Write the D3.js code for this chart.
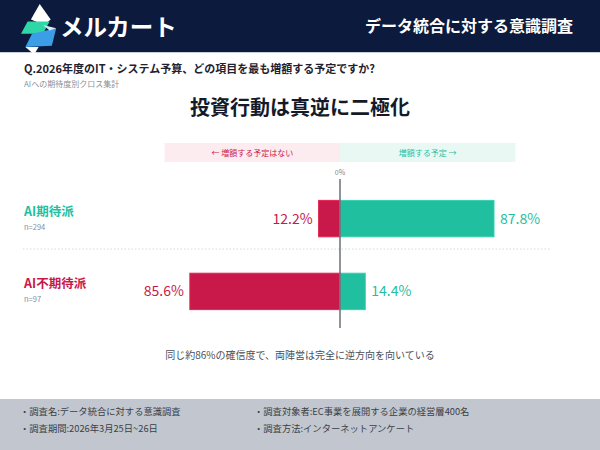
<!DOCTYPE html>
<html>
<head>
<meta charset="utf-8">
<script src="https://cdn.jsdelivr.net/npm/d3@7"></script>
<style>
  body { margin: 0; background: #ffffff; }
  svg { display: block; font-family: "Noto Sans CJK JP", "Noto Sans", sans-serif; }
</style>
</head>
<body>
<div id="chart"></div>
<script>
// 数据
const groups = ['AI期待派', 'AI不期待派'];
const sampleSizes = ['n=294', 'n=97'];
const noIncrease = [12.2, 85.6];
const increase = [87.8, 14.4];
const legendLabels = ['← 増額する予定はない', '増額する予定 →'];
const footerItems = [
    '・調査名:データ統合に対する意識調査',
    '・調査期間:2026年3月25日~26日',
    '・調査対象者:EC事業を展開する企業の経営層400名',
    '・調査方法:インターネットアンケート'
];

const width = 600, height = 450;
const crimson = '#c8194a', teal = '#1fbf9f';

const svg = d3.select('#chart')
    .append('svg')
    .attr('width', width)
    .attr('height', height);

// 头部
svg.append('rect').attr('width', width).attr('height', 52).attr('fill', '#0b1a3d');
svg.append('line').attr('x1', 0).attr('x2', width).attr('y1', 52.5).attr('y2', 52.5)
    .attr('stroke', '#c9ced8').attr('stroke-width', 1);

// logo 图标
const logo = svg.append('g').attr('transform', 'translate(21,4) scale(1.1)');
logo.append('polygon').attr('points', '17,0 27,14 21,19 9,14').attr('fill', '#ffffff');
logo.append('polygon').attr('points', '6,16 26,16 20,27 0,27').attr('fill', '#2fd6a6');
logo.append('polygon').attr('points', '10,27 32,22 28,38 4,39').attr('fill', '#3d9ee8');
logo.append('polygon').attr('points', '4,39 16,39 12,46').attr('fill', '#ffffff');
logo.append('polygon').attr('points', '20,19 32,22 26,24').attr('fill', '#dfe9f2');
svg.append('text').attr('x', 60).attr('y', 36)
    .attr('fill', '#ffffff').attr('font-size', 23.5).attr('font-weight', 700)
    .text('メルカート');
svg.append('text').attr('x', 573).attr('y', 32).attr('text-anchor', 'end')
    .attr('fill', '#ffffff').attr('font-size', 16).attr('font-weight', 700)
    .text('データ統合に対する意識調査');

// 题目
svg.append('text').attr('x', 24).attr('y', 73)
    .attr('fill', '#1f2330').attr('font-size', 11).attr('font-weight', 700)
    .text('Q.2026年度のIT・システム予算、どの項目を最も増額する予定ですか?');
svg.append('text').attr('x', 24).attr('y', 87)
    .attr('fill', '#8a8f98').attr('font-size', 8)
    .text('AIへの期待度別クロス集計');
svg.append('text').attr('x', 300).attr('y', 115).attr('text-anchor', 'middle')
    .attr('fill', '#141a2a').attr('font-size', 20).attr('font-weight', 700)
    .text('投資行動は真逆に二極化');

// 比例尺
const x0 = 340;
const xRight = d3.scaleLinear().domain([0, 100]).range([x0, x0 + 175.4]);
const xLeft = d3.scaleLinear().domain([0, 100]).range([x0, x0 - 175.4]);
const y = d3.scaleBand().domain(groups).range([180, 330]).paddingInner(0.5).paddingOuter(0.28);

// 图例
svg.append('rect').attr('x', xLeft(100)).attr('y', 143).attr('width', x0 - xLeft(100)).attr('height', 19)
    .attr('fill', '#fdecef');
svg.append('rect').attr('x', x0).attr('y', 143).attr('width', xRight(100) - x0).attr('height', 19)
    .attr('fill', '#eaf8f3');
svg.append('text').attr('x', (xLeft(100) + x0) / 2).attr('y', 156).attr('text-anchor', 'middle')
    .attr('fill', crimson).attr('font-size', 8).text(legendLabels[0]);
svg.append('text').attr('x', (xRight(100) + x0) / 2).attr('y', 156).attr('text-anchor', 'middle')
    .attr('fill', teal).attr('font-size', 8).text(legendLabels[1]);
svg.append('text').attr('x', x0).attr('y', 175).attr('text-anchor', 'middle')
    .attr('fill', '#7a7f88').attr('font-size', 7).text('0%');

// 分隔虚线
svg.append('line').attr('x1', 23).attr('x2', 550).attr('y1', 249).attr('y2', 249)
    .attr('stroke', '#d5d8dd').attr('stroke-width', 1).attr('stroke-dasharray', '1.5,2');

// 柱子
const rows = svg.append('g').selectAll('g')
    .data(groups)
    .enter()
    .append('g');

rows.append('rect')
    .attr('x', (d, i) => xLeft(noIncrease[i]))
    .attr('y', d => y(d))
    .attr('width', (d, i) => x0 - xLeft(noIncrease[i]))
    .attr('height', y.bandwidth())
    .attr('fill', crimson)
    .attr('stroke', '#e2264f').attr('stroke-width', 1);
rows.append('rect')
    .attr('x', x0)
    .attr('y', d => y(d))
    .attr('width', (d, i) => xRight(increase[i]) - x0)
    .attr('height', y.bandwidth())
    .attr('fill', teal)
    .attr('stroke', '#35cfae').attr('stroke-width', 1);

rows.append('text')
    .attr('x', (d, i) => xLeft(noIncrease[i]) - 6)
    .attr('y', d => y(d) + y.bandwidth() / 2 + 5)
    .attr('text-anchor', 'end')
    .attr('fill', crimson).attr('font-size', 14)
    .text((d, i) => `${noIncrease[i]}%`);
rows.append('text')
    .attr('x', (d, i) => xRight(increase[i]) + 6)
    .attr('y', d => y(d) + y.bandwidth() / 2 + 5)
    .attr('fill', teal).attr('font-size', 14)
    .text((d, i) => `${increase[i]}%`);

// 分组标签
rows.append('text')
    .attr('x', 24)
    .attr('y', d => y(d) + y.bandwidth() / 2 - 3)
    .attr('fill', (d, i) => i === 0 ? teal : crimson)
    .attr('font-size', 12.5).attr('font-weight', 700)
    .text(d => d);
rows.append('text')
    .attr('x', 24)
    .attr('y', d => y(d) + y.bandwidth() / 2 + 11)
    .attr('fill', '#8a8f98').attr('font-size', 7.5)
    .text((d, i) => sampleSizes[i]);

// 0% 轴线
svg.append('line').attr('x1', x0).attr('x2', x0).attr('y1', 179).attr('y2', 328)
    .attr('stroke', '#6b6f78').attr('stroke-width', 1.5);

// 注释
svg.append('text').attr('x', 300).attr('y', 359).attr('text-anchor', 'middle')
    .attr('fill', '#4a4f58').attr('font-size', 10)
    .text('同じ約86%の確信度で、両陣営は完全に逆方向を向いている');

// 页脚
svg.append('rect').attr('y', 399).attr('width', width).attr('height', height - 399).attr('fill', '#c2c7cf');
svg.selectAll('.footer')
    .data(footerItems)
    .enter()
    .append('text')
    .attr('class', 'footer')
    .attr('x', (d, i) => i < 2 ? 20 : 254)
    .attr('y', (d, i) => 415 + (i % 2) * 17)
    .attr('fill', '#3a3f48').attr('font-size', 9.3)
    .text(d => d);
</script>
</body>
</html>
